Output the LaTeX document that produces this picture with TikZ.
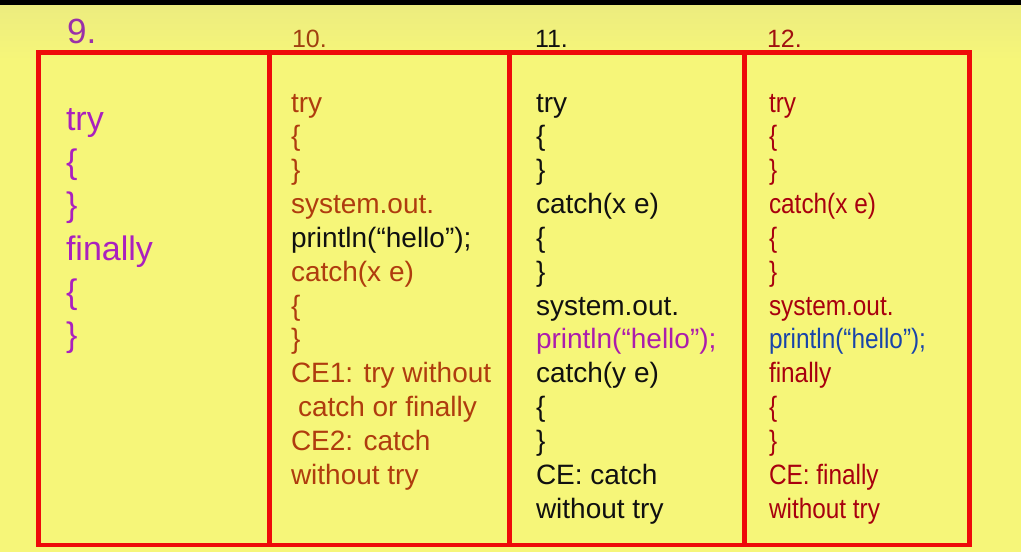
\documentclass[tikz,border=0pt]{standalone}
\usepackage{fontspec}
\setmainfont{Liberation Sans}
\newfontfamily\narrowsans[FakeStretch=0.87]{Liberation Sans}
\definecolor{bgyellow}{HTML}{F6F679}
\definecolor{bgtop}{HTML}{ECEC7F}
\definecolor{framered}{HTML}{EE0A0A}
\definecolor{purpA}{HTML}{AA20BE}
\definecolor{purpH}{HTML}{9A30A8}
\definecolor{brownA}{HTML}{AF3C0E}
\definecolor{brownH}{HTML}{A04010}
\definecolor{inkA}{HTML}{101010}
\definecolor{magA}{HTML}{AC1CAC}
\definecolor{redA}{HTML}{A8000E}
\definecolor{redH}{HTML}{A01010}
\definecolor{blueA}{HTML}{1844AA}
\tikzset{
  codeline/.style={anchor=base west, inner sep=0pt, outer sep=0pt, font=\fontsize{28}{34}\selectfont},
  bigline/.style={anchor=base west, inner sep=0pt, outer sep=0pt, font=\fontsize{34}{42}\selectfont},
  narrowline/.style={anchor=base west, inner sep=0pt, outer sep=0pt, font=\narrowsans\fontsize{28}{34}\selectfont},
  headline/.style={anchor=base west, inner sep=0pt, outer sep=0pt, font=\fontsize{25}{30}\selectfont},
  frameline/.style={draw=framered, line width=4.5pt},
}
\begin{document}
\begin{tikzpicture}[x=1pt,y=-1pt]
\useasboundingbox (0,0) rectangle (1021,552);
% background
\fill[bgyellow] (0,0) rectangle (1021,552);
\shade[top color=bgtop, bottom color=bgyellow] (0,4.5) rectangle (1021,60);
\fill[black] (0,0) rectangle (1021,4.5);
% frame
\draw[frameline] (38.5,52.5) rectangle (969.5,545);
\draw[frameline] (269.5,52.5) -- (269.5,545);
\draw[frameline] (509.5,52.5) -- (509.5,545);
\draw[frameline] (744.5,52.5) -- (744.5,545);
% headers
\node[font=\fontsize{35}{40}\selectfont, anchor=base west, inner sep=0pt, text=purpH] (h9) at (67,43) {9.};
\node[headline, text=brownH] (h10) at (292,47) {10.};
\node[headline, text=inkA] (h11) at (535,47) {11.};
\node[headline, text=redH] (h12) at (767,47) {12.};
% column 9
\begin{scope}[every node/.append style={bigline, text=purpA}]
\node (a1) at (66,130) {try};
\node (a2) at (66,173.3) {\{};
\node (a3) at (66,216.6) {\}};
\node (a4) at (66,260) {finally};
\node (a5) at (66,303.3) {\{};
\node (a6) at (66,346.6) {\}};
\end{scope}
% column 10
\begin{scope}[every node/.append style={codeline, text=brownA}]
\node (b1) at (291,112) {try};
\node (b2) at (291,145.85) {\{};
\node (b3) at (291,179.7) {\}};
\node (b4) at (291,213.55) {system.out.};
\node[text=inkA] (b5) at (291,247.4) {println(“hello”);};
\node (b6) at (291,281.25) {catch(x e)};
\node (b7) at (291,315.1) {\{};
\node (b8) at (291,348.95) {\}};
\node (b9) at (291,382.8) {CE1: try without};
\node (b10) at (298,416.65) {catch or finally};
\node (b11) at (291,450.5) {CE2: catch};
\node (b12) at (291,484.35) {without try};
\end{scope}
% column 11
\begin{scope}[every node/.append style={codeline, text=inkA}]
\node (c1) at (536,112) {try};
\node (c2) at (536,145.85) {\{};
\node (c3) at (536,179.7) {\}};
\node (c4) at (536,213.55) {catch(x e)};
\node (c5) at (536,247.4) {\{};
\node (c6) at (536,281.25) {\}};
\node (c7) at (536,315.1) {system.out.};
\node[text=magA] (c8) at (536,348.95) {println(“hello”);};
\node (c9) at (536,382.8) {catch(y e)};
\node (c10) at (536,416.65) {\{};
\node (c11) at (536,450.5) {\}};
\node (c12) at (536,484.35) {CE: catch};
\node (c13) at (536,518.2) {without try};
\end{scope}
% column 12
\begin{scope}[every node/.append style={narrowline, text=redA}]
\node (d1) at (769,112) {try};
\node (d2) at (769,145.85) {\{};
\node (d3) at (769,179.7) {\}};
\node (d4) at (769,213.55) {catch(x e)};
\node (d5) at (769,247.4) {\{};
\node (d6) at (769,281.25) {\}};
\node (d7) at (769,315.1) {system.out.};
\node[text=blueA] (d8) at (769,348.95) {println(“hello”);};
\node (d9) at (769,382.8) {finally};
\node (d10) at (769,416.65) {\{};
\node (d11) at (769,450.5) {\}};
\node (d12) at (769,484.35) {CE: finally};
\node (d13) at (769,518.2) {without try};
\end{scope}
\end{tikzpicture}
\end{document}
